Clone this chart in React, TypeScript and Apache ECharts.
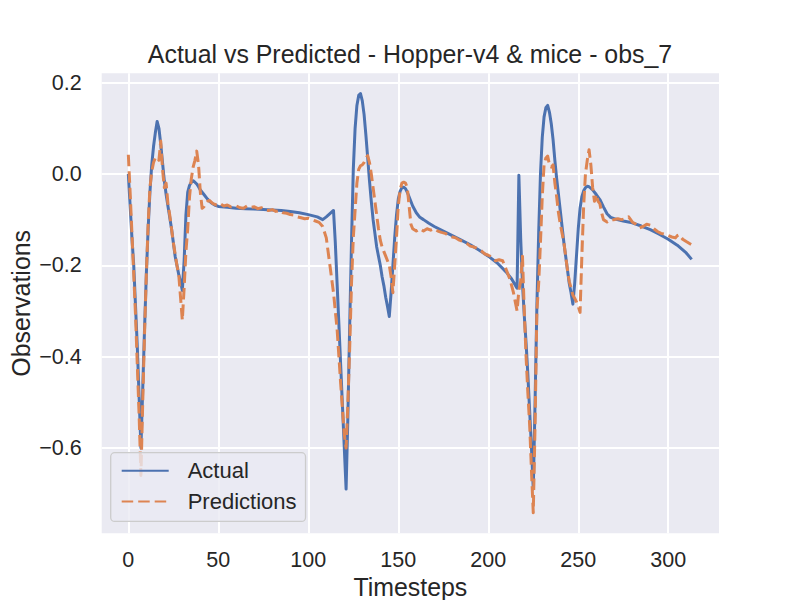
import { useEffect, useRef } from 'react';
import * as echarts from 'echarts';

const TITLE = 'Actual vs Predicted - Hopper-v4 & mice - obs_7';

const xTicks = [0, 50, 100, 150, 200, 250, 300];
const yTicks = [-0.6, -0.4, -0.2, 0.0, 0.2];

// Actual: timestep / value pairs
const actualSteps = [
  0, 1, 2, 3, 4, 5, 6, 7, 8, 9, 10, 11, 12, 13, 14, 15, 16, 17, 18, 19, 20, 21, 22, 23, 24, 25, 26, 27, 28, 29, 30,
  31, 32, 33, 34, 35, 36, 37, 38, 39, 40, 42, 44, 46, 48, 50, 55, 60, 65, 70, 75, 80, 85, 90, 95, 100, 105, 108,
  110, 112, 114, 115, 116, 117, 118, 119, 120, 121, 122, 123, 124, 125, 126, 127, 128, 129, 130, 131, 132, 133,
  134, 135, 136, 137, 138, 139, 140, 141, 142, 143, 144, 145, 146, 147, 148, 149, 150, 151, 152, 153, 154, 155,
  156, 158, 160, 162, 164, 167, 170, 175, 180, 185, 190, 195, 200, 205, 210, 213, 216, 217, 218, 219, 220, 221,
  222, 223, 224, 225, 226, 227, 228, 229, 230, 231, 232, 233, 234, 235, 236, 237, 238, 239, 240, 241, 242, 243,
  244, 245, 246, 247, 248, 249, 250, 251, 252, 253, 254, 255, 256, 258, 260, 262, 264, 266, 268, 270, 275, 280,
  285, 290, 295, 300, 305, 310, 313,
];
const actualValues = [
  0.0, -0.07, -0.14, -0.2, -0.29, -0.38, -0.49, -0.6, -0.47, -0.34, -0.22, -0.12, -0.04, 0.02, 0.06, 0.09, 0.115,
  0.1, 0.065, 0.025, -0.015, -0.045, -0.07, -0.095, -0.12, -0.15, -0.18, -0.2, -0.22, -0.235, -0.255,
  -0.19, -0.09, -0.04, -0.025, -0.018, -0.015, -0.018, -0.022, -0.028, -0.035, -0.045, -0.055, -0.063, -0.068,
  -0.071, -0.073, -0.075, -0.076, -0.077, -0.078, -0.079, -0.08, -0.082, -0.085, -0.089, -0.094, -0.1,
  -0.094, -0.087, -0.08, -0.15, -0.24, -0.33, -0.42, -0.51, -0.6, -0.69, -0.53, -0.33, -0.15, 0.01, 0.1, 0.15,
  0.172, 0.176, 0.16, 0.13, 0.085, 0.035, -0.015, -0.06, -0.1, -0.13, -0.16, -0.18, -0.2, -0.225, -0.245,
  -0.27, -0.29, -0.312, -0.26, -0.2, -0.14, -0.09, -0.055, -0.038, -0.03, -0.029, -0.032, -0.04, -0.05, -0.07,
  -0.085, -0.095, -0.1, -0.108, -0.115, -0.125, -0.135, -0.145, -0.155, -0.167, -0.18, -0.195, -0.215, -0.23,
  -0.25, -0.003, -0.14, -0.24, -0.31, -0.37, -0.44, -0.52, -0.6, -0.69, -0.5, -0.29, -0.13, 0.0, 0.08, 0.125,
  0.145, 0.15, 0.135, 0.11, 0.075, 0.03, -0.01, -0.045, -0.08, -0.115, -0.15, -0.18, -0.21, -0.24, -0.26,
  -0.285, -0.24, -0.18, -0.12, -0.075, -0.05, -0.037, -0.03, -0.027, -0.028, -0.035, -0.045, -0.056, -0.072,
  -0.087, -0.095, -0.098, -0.103, -0.107, -0.114, -0.122, -0.132, -0.143, -0.156, -0.173, -0.187,
];

// Predictions: timestep / value pairs
const predSteps = [
  0, 1, 2, 3, 4, 5, 6, 7, 8, 9, 10, 11, 12, 13, 14, 15, 16, 17, 18, 19, 20, 21, 22, 23, 24, 25, 26, 27, 28, 29, 30,
  31, 32, 33, 34, 35, 36, 37, 38, 39, 40, 41, 42, 43, 44, 45, 47, 49, 51, 53, 55, 57, 60, 62, 64, 66, 68, 70, 72,
  74, 76, 78, 80, 82, 84, 86, 88, 90, 92, 94, 96, 98, 100, 102, 104, 106, 108, 110, 112, 114, 116, 118, 120, 121,
  122, 123, 124, 125, 126, 127, 128, 129, 130, 131, 132, 133, 134, 135, 136, 137, 138, 139, 140, 141, 142, 143,
  144, 145, 146, 147, 148, 149, 150, 151, 152, 153, 154, 155, 156, 157, 158, 160, 162, 164, 166, 168, 170, 172,
  174, 176, 178, 180, 182, 184, 186, 188, 190, 192, 194, 196, 198, 200, 202, 204, 206, 208, 210, 212, 214, 215,
  216, 217, 218, 219, 220, 221, 222, 223, 224, 225, 226, 227, 228, 229, 230, 231, 232, 233, 234, 235, 236, 237,
  238, 239, 240, 241, 242, 243, 244, 245, 246, 247, 248, 249, 250, 251, 252, 253, 254, 255, 256, 257, 258, 259,
  260, 261, 262, 263, 264, 266, 268, 270, 272, 274, 276, 278, 280, 282, 284, 286, 288, 290, 292, 294, 296, 298,
  300, 302, 304, 305, 306, 308, 310, 313,
];
const predValues = [
  0.042, -0.04, -0.13, -0.22, -0.31, -0.42, -0.53, -0.66, -0.5, -0.35, -0.22, -0.11, -0.03, 0.005, 0.025, 0.035,
  0.037, 0.03, 0.072, 0.01, -0.03, -0.02, -0.065, -0.09, -0.12, -0.15, -0.175, -0.2, -0.22, -0.27, -0.32,
  -0.25, -0.17, -0.12, -0.05, -0.01, 0.015, 0.03, 0.05, 0.02, -0.04, -0.075, -0.072, -0.065, -0.06, -0.058,
  -0.065, -0.068, -0.065, -0.07, -0.068, -0.072, -0.07, -0.074, -0.075, -0.07, -0.073, -0.072, -0.076, -0.074,
  -0.079, -0.08, -0.078, -0.082, -0.08, -0.085, -0.086, -0.089, -0.09, -0.094, -0.096, -0.098, -0.097, -0.1,
  -0.103, -0.106, -0.115, -0.14, -0.2, -0.26, -0.34, -0.46, -0.57, -0.6, -0.5, -0.38, -0.24, -0.14, -0.08,
  -0.02, 0.01, 0.018, 0.02, 0.025, 0.035, 0.04, 0.025, 0.0, -0.03, -0.06, -0.09, -0.12, -0.145, -0.16, -0.17,
  -0.18, -0.19, -0.2, -0.225, -0.26, -0.2, -0.14, -0.07, -0.035, -0.02, -0.018, -0.02, -0.03, -0.07, -0.11,
  -0.12, -0.125, -0.12, -0.125, -0.12, -0.123, -0.12, -0.125, -0.128, -0.13, -0.135, -0.138, -0.14, -0.145,
  -0.148, -0.152, -0.158, -0.16, -0.163, -0.168, -0.175, -0.178, -0.182, -0.19, -0.188, -0.19, -0.21, -0.23,
  -0.26, -0.28, -0.3, -0.255, -0.235, -0.18, -0.3, -0.4, -0.48, -0.55, -0.65, -0.742, -0.55, -0.3, -0.24,
  -0.15, -0.05, 0.02, 0.035, 0.039, 0.02, 0.015, 0.02, -0.02, -0.05, -0.085, -0.11, -0.13, -0.15, -0.18, -0.21,
  -0.235, -0.25, -0.265, -0.272, -0.28, -0.29, -0.303, -0.18, -0.07, 0.0, 0.03, 0.053, 0.02, -0.03, -0.06,
  -0.045, -0.06, -0.065, -0.085, -0.1, -0.105, -0.1, -0.1, -0.098, -0.1, -0.098, -0.094, -0.105, -0.11, -0.118,
  -0.115, -0.11, -0.112, -0.12, -0.126, -0.13, -0.132, -0.135, -0.138, -0.14, -0.135, -0.133, -0.143, -0.148,
  -0.155,
];

const FONT = '"Liberation Sans", Arial, sans-serif';
const TEXT = '#262626';

const fmtY = (v: number) => (v < 0 ? '\u2212' + Math.abs(v).toFixed(1) : v.toFixed(1));

export default function App() {
  const ref = useRef<HTMLDivElement>(null);

  useEffect(() => {
    if (!ref.current) return;
    const chart = echarts.init(ref.current, null, { renderer: 'svg' });

    const actual = actualSteps.map((t, i) => [t, actualValues[i]]);
    const pred = predSteps.map((t, i) => [t, predValues[i]]);

    // white seaborn-style grid lines, drawn under the data
    const gridLines = [
      ...xTicks.map((t) => ({ xAxis: t })),
      ...yTicks.map((v) => ({ yAxis: v })),
    ];

    chart.setOption({
      animation: false,
      backgroundColor: '#ffffff',
      textStyle: { fontFamily: FONT },
      title: {
        text: TITLE,
        left: 410,
        top: 41,
        padding: 0,
        textAlign: 'center',
        textStyle: { fontFamily: FONT, fontSize: 24.9, fontWeight: 'normal', color: TEXT },
      },
      grid: {
        left: 101.7,
        top: 73.3,
        width: 617.3,
        height: 460,
        show: true,
        backgroundColor: '#EAEAF2',
        borderWidth: 0,
        containLabel: false,
        outerBoundsMode: 'none',
      },
      legend: {
        orient: 'vertical',
        left: 110.7,
        top: 452.7,
        padding: [7, 9, 9, 10],
        itemWidth: 47,
        itemHeight: 22,
        itemGap: 8.7,
        backgroundColor: 'rgba(234,234,242,0.8)',
        borderColor: '#cccccc',
        borderWidth: 1.3,
        borderRadius: 4,
        itemStyle: { opacity: 0 },
        textStyle: { fontFamily: FONT, fontSize: 22, color: TEXT, padding: [0, 0, 0, 14] },
        data: ['Actual', 'Predictions'],
      },
      xAxis: {
        type: 'value',
        min: -14.8,
        max: 328.2,
        name: 'Timesteps',
        nameLocation: 'middle',
        nameGap: 41,
        nameMoveOverlap: false,
        nameTextStyle: { fontFamily: FONT, fontSize: 24.9, color: TEXT },
        axisLine: { show: false },
        axisTick: { show: false },
        splitLine: { show: false },
        axisLabel: {
          customValues: xTicks,
          margin: 16,
          fontFamily: FONT,
          fontSize: 21.5,
          color: TEXT,
        },
      },
      yAxis: {
        type: 'value',
        min: -0.7868,
        max: 0.2204,
        name: 'Observations',
        nameLocation: 'middle',
        nameGap: 68,
        nameRotate: 90,
        nameMoveOverlap: false,
        nameTextStyle: { fontFamily: FONT, fontSize: 24.9, color: TEXT },
        axisLine: { show: false },
        axisTick: { show: false },
        splitLine: { show: false },
        axisLabel: {
          customValues: yTicks,
          margin: 20,
          fontFamily: FONT,
          fontSize: 21.5,
          color: TEXT,
          formatter: fmtY,
        },
      },
      series: [
        {
          name: 'Actual',
          type: 'line',
          data: actual,
          symbol: 'none',
          showSymbol: false,
          z: 2,
          lineStyle: { color: '#4C72B0', width: 3, join: 'round' },
          itemStyle: { color: '#4C72B0' },
          markLine: {
            silent: true,
            z: 1,
            symbol: ['none', 'none'],
            label: { show: false },
            emphasis: { disabled: true },
            lineStyle: { color: '#ffffff', width: 2, type: 'solid' },
            data: gridLines,
          },
        },
        {
          name: 'Predictions',
          type: 'line',
          data: pred,
          symbol: 'none',
          showSymbol: false,
          z: 3,
          lineStyle: { color: '#DD8452', width: 3, type: [11.5, 5], join: 'round' },
          itemStyle: { color: '#DD8452' },
        },
      ],
    });

    return () => chart.dispose();
  }, []);

  return (
    <div
      ref={ref}
      style={{ position: 'fixed', left: 0, top: 0, width: 800, height: 600 }}
    />
  );
}
